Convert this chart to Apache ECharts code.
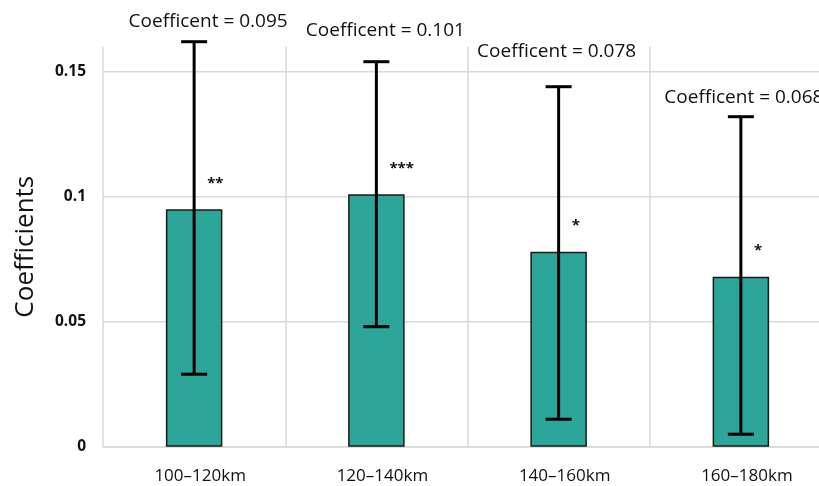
<!DOCTYPE html>
<html>
<head>
<meta charset="utf-8">
<script src="https://cdn.jsdelivr.net/npm/echarts@6/dist/echarts.min.js"></script>
<style>html,body{margin:0;padding:0;background:#fff;overflow:hidden;width:819px;height:486px;}#c{width:832px;height:486px;}</style>
</head>
<body>
<div id="c"></div>
<script>
var categories = ['100–120km', '120–140km', '140–160km', '160–180km'];
var coefficients = [0.095, 0.101, 0.078, 0.068];
var errLow = [0.029, 0.048, 0.011, 0.005];
var errHigh = [0.162, 0.154, 0.144, 0.132];
var stars = ['**', '***', '*', '*'];
var yTicks = [0, 0.05, 0.1, 0.15];
var yTickLabels = ['0', '0.05', '0.1', '0.15'];

var labelOffsets = [20, 31, 35, 19];
var labelShift = [14, 9, -2, 3];
var FONT = 'Open Sans';

var chart = echarts.init(document.getElementById('c'));
var errData = categories.map(function (c, i) { return [i, errLow[i], errHigh[i], coefficients[i]]; });

chart.setOption({
  animation: false,
  grid: { left: 103, top: 46.7, right: 0, bottom: 39.3, containLabel: false },
  xAxis: {
    type: 'category',
    data: categories,
    axisLine: { show: true, lineStyle: { color: '#d9d9d9', width: 1.5 } },
    axisTick: { show: false },
    axisLabel: { color: '#111', fontFamily: FONT, fontSize: 17, margin: 21,
      padding: [0, 0, 0, 12] },
    splitLine: { show: true, lineStyle: { color: '#d9d9d9', width: 1.5 } }
  },
  yAxis: {
    type: 'value', min: 0, max: 0.16, interval: 0.05,
    name: 'Coefficients', nameLocation: 'middle', nameGap: 64,
    nameTextStyle: { color: '#111', fontFamily: FONT, fontSize: 26 },
    axisLine: { show: false }, axisTick: { show: false },
    splitLine: { show: false },
    axisLabel: { color: '#111', fontFamily: FONT, fontSize: 15.5, fontWeight: 'bold', margin: 17,
      showMaxLabel: false,
      formatter: function (v) { var k = yTicks.indexOf(Math.round(v * 100) / 100); return k >= 0 ? yTickLabels[k] : ''; } }
  },
  series: [
    {
      type: 'custom', z: 0, silent: true,
      data: yTicks.map(function (t) { return [t]; }),
      encode: { y: 0 },
      renderItem: function (params, api) {
        var cs = params.coordSys;
        var y = api.coord([0, api.value(0)])[1];
        return { type: 'line', shape: { x1: cs.x, y1: y, x2: cs.x + cs.width, y2: y },
          style: { stroke: '#d9d9d9', lineWidth: 1.5 } };
      }
    },
    {
      type: 'bar', z: 2,
      data: coefficients,
      barWidth: '31%',
      itemStyle: { color: '#2CA699', borderColor: '#1a1a1a', borderWidth: 1.5 }
    },
    {
      type: 'custom', z: 5, silent: true,
      data: errData,
      encode: { x: 0, y: [1, 2] },
      renderItem: function (params, api) {
        var i = params.dataIndex;
        var lo = api.coord([api.value(0), api.value(1)]);
        var hi = api.coord([api.value(0), api.value(2)]);
        var top = api.coord([api.value(0), api.value(3)]);
        var cap = 26;
        var x = lo[0];
        var st = { stroke: '#000', lineWidth: 3 };
        return { type: 'group', children: [
          { type: 'line', shape: { x1: x, y1: lo[1], x2: x, y2: hi[1] }, style: st },
          { type: 'line', shape: { x1: x - cap / 2, y1: hi[1], x2: x + cap / 2, y2: hi[1] }, style: st },
          { type: 'line', shape: { x1: x - cap / 2, y1: lo[1], x2: x + cap / 2, y2: lo[1] }, style: st },
          { type: 'text', style: { text: 'Coefficent = ' + coefficients[i].toFixed(3), x: x + labelShift[i], y: hi[1] - labelOffsets[i],
              textAlign: 'center', textVerticalAlign: 'middle', fill: '#111', font: '19px "' + FONT + '"' } },
          { type: 'text', style: { text: stars[i], x: x + 13, y: top[1] - 18,
              textAlign: 'left', textVerticalAlign: 'bottom', fill: '#111', font: 'bold 15px "' + FONT + '"' } }
        ] };
      }
    }
  ]
});
</script>
</body>
</html>
